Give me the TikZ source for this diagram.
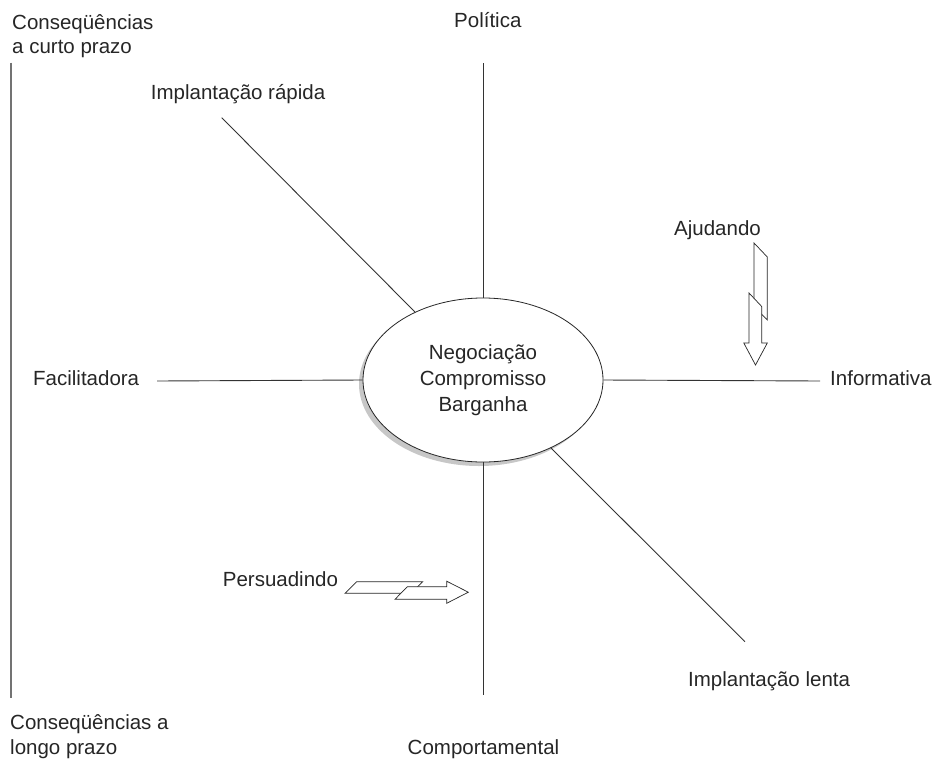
\documentclass[tikz,border=0pt]{standalone}
\usepackage{fontspec}
\setmainfont{Liberation Sans}
\usetikzlibrary{shapes.geometric,shadows}
\begin{document}
\begin{tikzpicture}[x=1pt,y=-1pt,
  lbl/.style={inner sep=0pt, text=black!85, font=\fontsize{20.5}{24.5}\selectfont},
  ln/.style={draw=black!80, line width=0.9pt},
  side/.style={draw=black!55, line width=1.4pt},
  blk/.style={draw=black!85, fill=white, line width=0.7pt, line join=miter}]
\useasboundingbox (0,0) rectangle (944,760);

% labels
\node[lbl, anchor=base west, align=left] (cst) at (12,53.5) {Conseqüências\\a curto prazo};
\node[lbl, anchor=base west, align=left] (lng) at (10,754) {Conseqüências a\\longo prazo};
\node[lbl, anchor=base west] (pol) at (454,28) {Política};
\node[lbl, anchor=base] (cmp) at (483.5,754) {Comportamental};
\node[lbl, anchor=base west] (rap) at (150.7,99) {Implantação rápida};
\node[lbl, anchor=base west] (len) at (688,686) {Implantação lenta};
\node[lbl, anchor=base west] (fac) at (33,385) {Facilitadora};
\node[lbl, anchor=base west] (inf) at (830,385) {Informativa};
\node[lbl, anchor=base west] (aju) at (674,235) {Ajudando};
\node[lbl, anchor=base west] (per) at (222.7,586.7) {Persuadindo};

% centre ellipse
\node[ellipse, draw=black!85, fill=white, line width=0.8pt,
      minimum width=240pt, minimum height=164pt, inner sep=0pt,
      align=center, text=black!85, font=\fontsize{20.5}{25.8}\selectfont,
      drop shadow={shadow xshift=-4pt, shadow yshift=-4pt, fill=black!22, opacity=1}]
      (c) at (483,380) {Negociação\\Compromisso\\Barganha};

% free ends of the axes
\coordinate (eN) at (483,62.5);
\coordinate (eS) at (483,695);
\coordinate (eW) at (157,381);
\coordinate (eE) at (820,381);
\coordinate (eNW) at (221.7,117.7);
\coordinate (eSE) at (745,641.7);
\coordinate (sT) at (11,62.5);
\coordinate (sB) at (11,697.5);

\draw[ln] (c.north) -- (eN);
\draw[ln] (c.south) -- (eS);
\draw[ln] (c.west) -- (eW);
\draw[ln] (c.east) -- (eE);
\draw[ln] (c.135) -- (eNW);
\draw[ln] (c.-45) -- (eSE);
\draw[side] (sT) -- (sB);

% Ajudando arrow
\draw[blk] (754,243) -- (767.3,257) -- (767.3,320) -- (754,306.5) -- cycle;
\draw[blk] (749,293) -- (761.7,306.5) -- (761.7,343) -- (767.3,343) -- (755.5,365)
  -- (743.8,343) -- (749,343) -- cycle;

% Persuadindo arrow
\draw[blk] (345,593.3) -- (356.7,581.7) -- (422.7,581.7) -- (411,593.3) -- cycle;
\draw[blk] (395,599.3) -- (407.3,586.7) -- (446.7,586.7) -- (446.7,581.2) -- (468.3,592.2)
  -- (446.7,603.3) -- (446.7,599.3) -- cycle;
\end{tikzpicture}
\end{document}
